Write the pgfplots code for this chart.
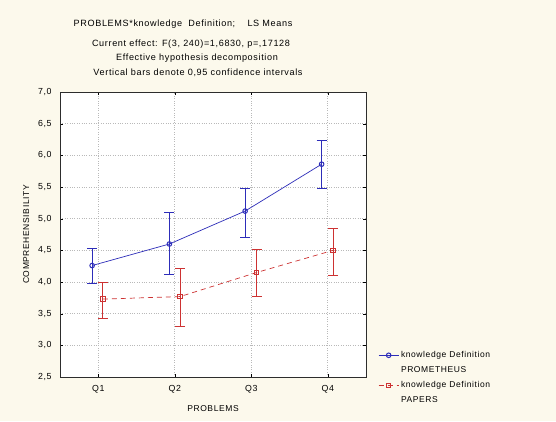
\documentclass[border=0pt]{standalone}
\usepackage{pgfplots}
\pgfplotsset{compat=1.18}
\usepackage{pgfplotstable}
\usepackage{fontspec}
\setmainfont{Liberation Sans}[LetterSpace=7]
\definecolor{bgcream}{RGB}{252,249,236}
\definecolor{myblue}{RGB}{45,45,185}
\definecolor{myred}{RGB}{205,50,50}

\pgfplotstableread{
x y lo hi
0.92 4.26 3.98 4.53
1.93 4.60 4.12 5.09
2.92 5.12 4.71 5.48
3.92 5.86 5.47 6.24
}\prometheus
\pgfplotstableread{
x y lo hi
1.06 3.73 3.43 3.99
2.07 3.77 3.29 4.22
3.07 4.15 3.77 4.51
4.07 4.50 4.10 4.85
}\papers

\begin{document}
\begin{tikzpicture}
\fill[bgcream] (0pt,0pt) rectangle (556pt,421pt);
\path[use as bounding box] (0pt,0pt) rectangle (556pt,421pt);
\begin{scope}[every node/.style={font=\fontsize{9.1}{9}\selectfont, inner sep=0pt}]
\node at (183pt,397pt) {PROBLEMS*knowledge\ \ Definition;\quad\ LS Means};
\node at (191pt,377pt) {Current effect: F(3, 240)=1,6830, p=,17128};
\node at (197pt,363pt) {Effective hypothesis decomposition};
\node at (198pt,348pt) {Vertical bars denote 0,95 confidence intervals};
\end{scope}
\begin{axis}[
  at={(60pt,44pt)}, anchor=south west,
  scale only axis, width=306pt, height=285pt,
  xmin=0.5, xmax=4.5, ymin=2.5, ymax=7,
  xtick={1,2,3,4}, xticklabels={Q1,Q2,Q3,Q4},
  ytick={2.5,3,3.5,4,4.5,5,5.5,6,6.5,7},
  /pgf/number format/.cd, use comma, fixed, fixed zerofill, precision=1, assume math mode=true,
  /pgfplots/.cd,
  tick label style={font=\fontsize{8.8}{9}\selectfont},
  yticklabel style={xshift=-5pt},
  xticklabel style={yshift=-5pt},
  label style={font=\fontsize{8.5}{9}\selectfont},
  xlabel={PROBLEMS}, ylabel={COMPREHENSIBILITY},
  xlabel style={yshift=-5pt},
  ylabel style={yshift=2pt},
  grid=major, grid style={dotted, gray!55, line width=0.6pt},
  axis line style={gray!35!black},
  tick align=inside, major tick length=3pt,
  tick style={black},
  axis background/.style={fill=white},
  legend style={at={(1.03,-0.11)}, anchor=south west, draw=none, fill=none,
    font=\fontsize{8.5}{10}\selectfont, row sep=3.5pt,
    /tikz/every even column/.append style={column sep=2pt}},
  legend cell align=left,
  legend image code/.code={\draw[mark repeat=2, mark phase=2] plot coordinates {(0cm,0cm) (0.35cm,0cm) (0.7cm,0cm)};},
]
\addplot[myblue, line width=0.7pt, mark=o, mark size=2.3pt, mark options={solid, line width=1pt},
  error bars/.cd, y dir=both, y explicit,
  error bar style={myblue, line width=1pt},
  error mark options={myblue, line width=1pt, mark size=5pt, rotate=90}]
  table[x=x, y=y, y error plus expr=\thisrow{hi}-\thisrow{y}, y error minus expr=\thisrow{y}-\thisrow{lo}] {\prometheus};
\addlegendentry{knowledge Definition}
\addlegendimage{empty legend}
\addlegendentry{PROMETHEUS}
\addplot[myred, line width=0.7pt, dash pattern=on 5pt off 4pt, mark=square, mark size=2.3pt, mark options={solid, line width=1pt},
  error bars/.cd, y dir=both, y explicit,
  error bar style={myred, solid, line width=1pt},
  error mark options={myred, solid, line width=1pt, mark size=5pt, rotate=90}]
  table[x=x, y=y, y error plus expr=\thisrow{hi}-\thisrow{y}, y error minus expr=\thisrow{y}-\thisrow{lo}] {\papers};
\addlegendentry{knowledge Definition}
\addlegendimage{empty legend}
\addlegendentry{PAPERS}
\end{axis}
\end{tikzpicture}
\end{document}
